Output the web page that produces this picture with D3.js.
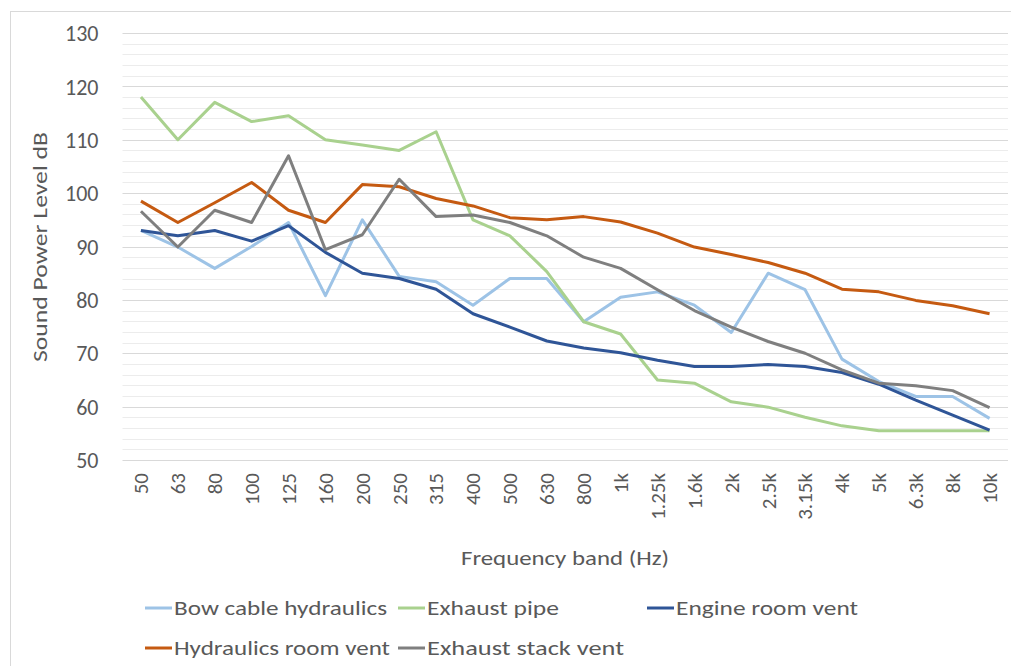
<!DOCTYPE html>
<html><head><meta charset="utf-8">
<script src="https://cdn.jsdelivr.net/npm/d3@7"></script>
<style>
body{margin:0;background:#fff;}
text{font-family:Carlito,Calibri,Lato,"Open Sans",sans-serif;fill:#595959;}
</style></head>
<body><svg id="c" width="1011" height="666"></svg>
<script>
const categories=["50","63","80","100","125","160","200","250","315","400","500","630","800","1k","1.25k","1.6k","2k","2.5k","3.15k","4k","5k","6.3k","8k","10k"];
const bowCable=[93,89.9,85.9,90,94.5,80.8,95,84.4,83.4,79,84,84,75.9,80.5,81.5,79,73.9,85,81.9,68.9,64.7,61.9,61.9,57.8];
const exhaustPipe=[118,110,117,113.4,114.5,110,109,108,111.5,95,92,85.3,75.9,73.6,65,64.4,60.9,59.9,58,56.4,55.5,55.5,55.5,55.5];
const engineRoom=[93,92,93,91,93.9,88.9,85,84,82,77.4,74.9,72.3,71,70.1,68.7,67.5,67.5,67.9,67.5,66.4,64.2,61.2,58.4,55.6];
const hydraulicsRoom=[98.5,94.5,98.2,102,96.8,94.5,101.6,101.2,99,97.6,95.4,95,95.6,94.6,92.5,89.9,88.5,87,85,82,81.5,79.9,78.9,77.4];
const exhaustStack=[96.6,89.9,96.8,94.5,107,89.4,92.2,102.6,95.6,95.9,94.5,92,88,85.9,81.9,78,74.9,72.2,70,66.9,64.4,63.9,63,59.8];
const yTicks=[50,60,70,80,90,100,110,120,130];
const seriesNames=["Bow cable hydraulics","Exhaust pipe","Engine room vent","Hydraulics room vent","Exhaust stack vent"];
const seriesColors=["#9DC3E6","#A9D18E","#2F5597","#C55A11","#7F7F7F"];
const seriesData=[bowCable,exhaustPipe,engineRoom,hydraulicsRoom,exhaustStack];

const svg=d3.select("#c");
svg.append("rect").attr("x",10.5).attr("y",11.5).attr("width",1100).attr("height",800)
  .attr("fill","none").attr("stroke","#d9d9d9").attr("stroke-width",1);

const L=122.5,R=1008,T=33,B=460;
const x=d3.scaleBand().domain(categories).range([L,R]);
const y=d3.scaleLinear().domain([50,130]).range([B,T]);

const minor=d3.range(52,130,2).filter(v=>v%10!==0);
svg.append("g").selectAll("line").data(minor).join("line")
  .attr("x1",L).attr("x2",R).attr("y1",d=>Math.round(y(d))+0.5).attr("y2",d=>Math.round(y(d))+0.5)
  .attr("stroke","#ececec").attr("stroke-width",1);
svg.append("g").selectAll("line").data(yTicks).join("line")
  .attr("x1",L).attr("x2",R).attr("y1",d=>Math.round(y(d))+0.5).attr("y2",d=>Math.round(y(d))+0.5)
  .attr("stroke","#d9d9d9").attr("stroke-width",1.2);

const ya=svg.append("g").attr("transform",`translate(${L},0)`)
  .call(d3.axisLeft(y).tickValues(yTicks).tickSize(0).tickPadding(24));
ya.select(".domain").remove();
ya.selectAll("text").style("font-size","22px").attr("fill","#595959").attr("dy","0.35em");

const xa=svg.append("g").attr("transform",`translate(0,${B})`)
  .call(d3.axisBottom(x).tickSize(0));
xa.select(".domain").remove();
xa.selectAll("text").style("font-size","21px").attr("fill","#595959")
  .attr("text-anchor","end").attr("transform","rotate(-90)")
  .attr("x",-13).attr("y",0).attr("dy","0.35em");

const line=d3.line().x((d,i)=>x(categories[i])+x.bandwidth()/2).y(d=>y(d));
seriesData.forEach((s,k)=>{
  svg.append("path").datum(s).attr("d",line).attr("fill","none")
    .attr("stroke",seriesColors[k]).attr("stroke-width",3).attr("stroke-linejoin","round");
});

svg.append("text").attr("transform","translate(47,247) rotate(-90)").attr("text-anchor","middle")
  .style("font-size","20px").attr("textLength",230).attr("lengthAdjust","spacingAndGlyphs").text("Sound Power Level dB");
svg.append("text").attr("x",565).attr("y",565).attr("text-anchor","middle")
  .style("font-size","20px").attr("textLength",208).attr("lengthAdjust","spacingAndGlyphs").text("Frequency band (Hz)");

const legPos=[[145,608,213],[398,608,132],[647,608,182],[145,648,216],[398,648,197]];
seriesNames.forEach((n,k)=>{
  const [lx,ly,tl]=legPos[k];
  svg.append("line").attr("x1",lx).attr("x2",lx+27).attr("y1",ly).attr("y2",ly)
    .attr("stroke",seriesColors[k]).attr("stroke-width",3);
  svg.append("text").attr("x",lx+29).attr("y",ly).attr("dy","0.35em")
    .style("font-size","20px").attr("textLength",tl).attr("lengthAdjust","spacingAndGlyphs").text(n);
});
</script></body></html>
